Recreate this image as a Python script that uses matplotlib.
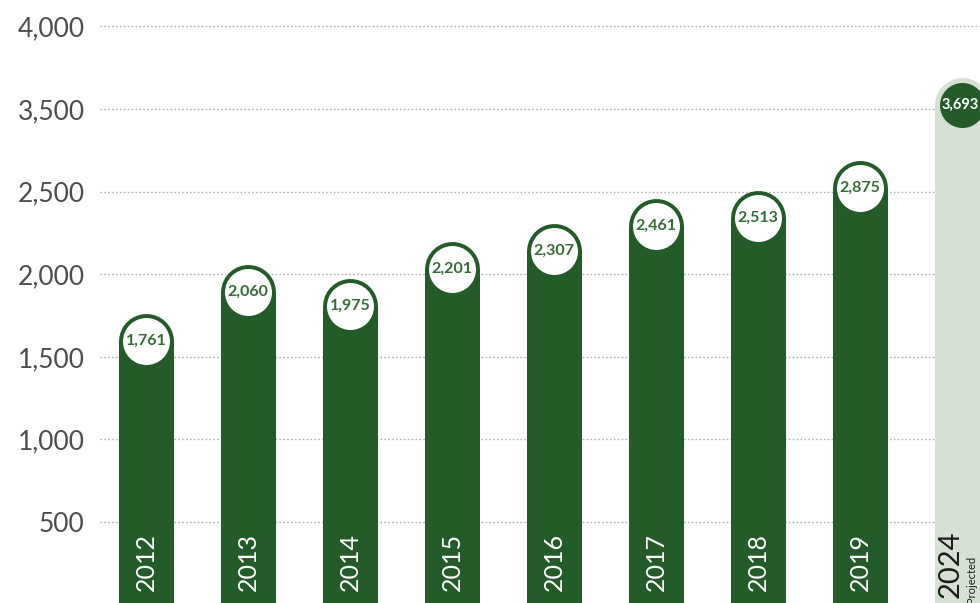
import numpy as np
import matplotlib
matplotlib.use('Agg')
import matplotlib.pyplot as plt
from matplotlib import transforms

years = ['2012', '2013', '2014', '2015', '2016', '2017', '2018', '2019', '2024']
values = [1761, 2060, 1975, 2201, 2307, 2461, 2513, 2875, 3693]
tick_values = [500, 1000, 1500, 2000, 2500, 3500, 4000]

# grid steps are 500 apart, except 2,500 -> 3,500 which is squeezed into one step
scale_v = [-5000, 0, 2500, 3500, 4000, 9000]
scale_u = [-10, 0, 5, 6, 7, 17]


def fwd(v):
    return np.interp(v, scale_v, scale_u)


def inv(u):
    return np.interp(u, scale_u, scale_v)


dark = '#235b29'
light = '#d6e0d3'
label_green = '#356c37'

plt.rcParams['font.family'] = ['Lato', 'DejaVu Sans']

fig = plt.figure(figsize=(9.8, 6.03), dpi=100)
ax = fig.add_axes([100 / 980, 0, 880 / 980, 1])
ax.set_yscale('function', functions=(fwd, inv))

px = 72 / fig.dpi
bar_w = 55 * px          # bar width in points
r = bar_w / 2
# shift down by the cap radius so the rounded top ends at the value
cap = transforms.offset_copy(ax.transData, fig=fig, y=-r, units='points')
base = transforms.blended_transform_factory(ax.transData, ax.transAxes)

for i, (yr, v) in enumerate(zip(years, values)):
    projected = yr == '2024'
    ax.plot([i, i], [-3000, v], color=light if projected else dark,
            lw=bar_w, solid_capstyle='round', transform=cap, zorder=2)
    if projected:
        ax.plot(i, v, 'o', ms=45 * px, mfc=dark, mec='none', transform=cap, zorder=3)
        t0 = transforms.offset_copy(cap, fig=fig, x=-2 * px, units='points')
        ax.text(i, v, f'{v:,}', transform=t0, ha='center', va='center',
                fontsize=10.5, fontweight='bold', color='white', zorder=4)
        t1 = transforms.offset_copy(base, fig=fig, x=-11 * px, units='points')
        ax.text(i, 0.008, yr, transform=t1, rotation=90, ha='center', va='bottom',
                fontsize=21, color='#1b1b1b', zorder=4)
        t2 = transforms.offset_copy(base, fig=fig, x=9 * px, units='points')
        ax.text(i, 0.0, 'Projected', transform=t2, rotation=90, ha='center',
                va='bottom', fontsize=8, color='#1b1b1b', zorder=4)
    else:
        ax.plot(i, v, 'o', ms=47 * px, mfc='white', mec='none', transform=cap, zorder=3)
        ax.text(i, v, f'{v:,}', transform=cap, ha='center', va='center',
                fontsize=11.5, fontweight='bold', color=label_green, zorder=4)
        ax.text(i, 0.02, yr, transform=base, rotation=90, ha='center', va='bottom',
                fontsize=18, color='white', zorder=4)

ax.set_xlim(-0.451, 8.176)
ax.set_ylim(10, 4160)
ax.set_yticks(tick_values)
ax.set_yticklabels([f'{t:,}' for t in tick_values])
ax.set_xticks([])
ax.tick_params(axis='y', length=0, pad=11, labelsize=19, labelcolor='#4d4d4d')
ax.yaxis.grid(True, color='#b0b0b0', lw=1.0, linestyle=(0, (1.2, 1.6)))
ax.set_axisbelow(True)
for s in ax.spines.values():
    s.set_visible(False)

fig.savefig('out.png', dpi=100)
